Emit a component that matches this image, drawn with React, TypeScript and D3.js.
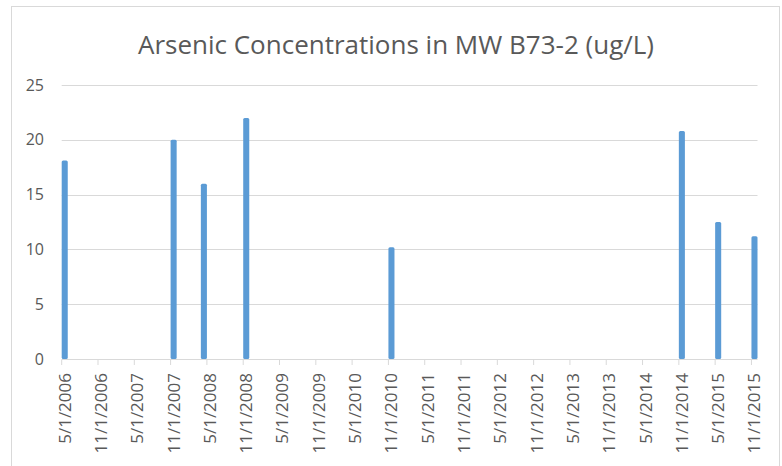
import React from "react";
import * as d3 from "d3";

const sampleDates = ["2006-05-01", "2007-11-01", "2008-04-01", "2008-11-01", "2010-11-01", "2014-11-01", "2015-05-01", "2015-11-01"];
const sampleValues = [18.1, 20.0, 16.0, 22.0, 10.2, 20.8, 12.5, 11.2];
const yTicks = [0, 5, 10, 15, 20, 25];
const axisStart = "2006-05-01";
const axisEnd = "2015-11-01";
const title = "Arsenic Concentrations in MW B73-2 (ug/L)";

const W = 782;
const H = 466;
const parse = d3.utcParse("%Y-%m-%d");
const fmt = (d: Date) => `${d.getUTCMonth() + 1}/${d.getUTCDate()}/${d.getUTCFullYear()}`;

export default function App() {
  const start = parse(axisStart)!;
  const end = parse(axisEnd)!;
  const months = d3.utcMonth.range(start, d3.utcMonth.offset(end, 1));
  const keys = months.map((m) => m.toISOString());
  const x = d3.scaleBand<string>().domain(keys).range([61.7, 757.5]).padding(0);
  const y = d3.scaleLinear().domain([0, 25]).range([359, 85]);
  const tickMonths = months.filter((_, i) => i % 6 === 0);
  const font = "'Open Sans', sans-serif";
  const grey = "#595959";
  const grid = "#d9d9d9";
  const bw = x.bandwidth();

  return (
    <svg width={W} height={H} style={{ position: "absolute", left: 0, top: 0, background: "#fff" }}>
      <rect x={0} y={0} width={W} height={H} fill="#fff" />
      <rect x={11.5} y={6.5} width={768} height={480} fill="#fff" stroke={grid} strokeWidth={1} />
      <text x={396} y={54} textAnchor="middle" fontFamily={font} fontSize={26} fill={grey}>
        {title}
      </text>
      {yTicks.map((t) => (
        <g key={t}>
          {t > 0 && <line x1={61.7} x2={757.5} y1={Math.round(y(t)) + 0.5} y2={Math.round(y(t)) + 0.5} stroke={grid} strokeWidth={1} />}
          <text x={44} y={y(t)} dy="0.35em" textAnchor="end" fontFamily={font} fontSize={16} fill={grey}>
            {t}
          </text>
        </g>
      ))}
      {sampleDates.map((ds, i) => {
        const d = parse(ds)!;
        const k = d.toISOString();
        const x0 = x(k)!;
        return (
          <rect key={ds} x={x0} y={y(sampleValues[i])} width={bw} height={y(0) - y(sampleValues[i])} rx={1.5} fill="#5b9bd5" />
        );
      })}
      <line x1={61.7} x2={757.5} y1={359.5} y2={359.5} stroke={grid} strokeWidth={1} />
      {tickMonths.map((m) => {
        const k = m.toISOString();
        const tx = x(k)!;
        return (
          <g key={k}>
            <line x1={tx} x2={tx} y1={359.5} y2={365} stroke={grid} strokeWidth={1} />
            <text
              transform={`translate(${tx + bw / 2},373) rotate(-90)`}
              textAnchor="end"
              dy="0.35em"
              fontFamily={font}
              fontSize={17}
              fill={grey}
            >
              {fmt(m)}
            </text>
          </g>
        );
      })}
    </svg>
  );
}
